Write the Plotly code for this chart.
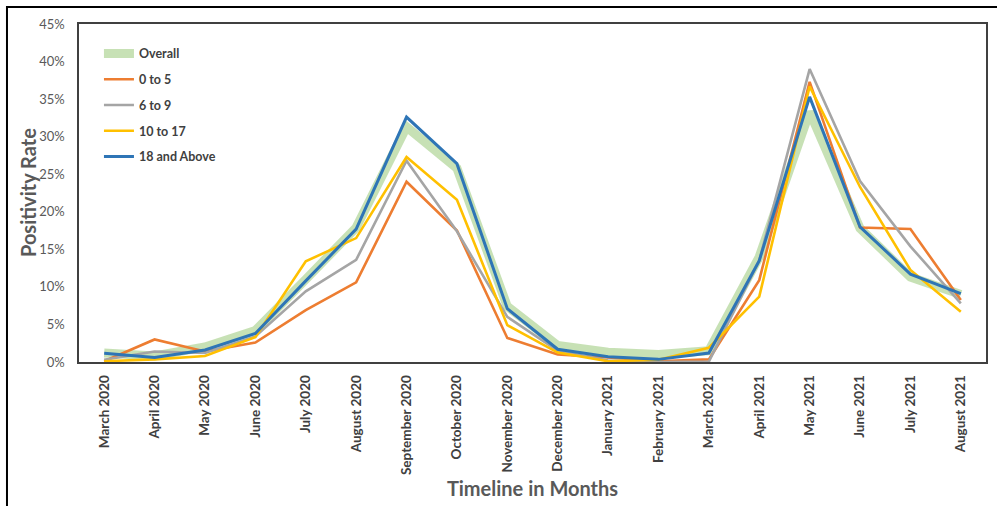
import plotly.graph_objects as go

months = ["March 2020", "April 2020", "May 2020", "June 2020", "July 2020", "August 2020",
          "September 2020", "October 2020", "November 2020", "December 2020", "January 2021",
          "February 2021", "March 2021", "April 2021", "May 2021", "June 2021", "July 2021",
          "August 2021"]

overall = [1.2, 0.8, 2.0, 4.2, 11.0, 17.9, 31.3, 25.8, 7.4, 2.2, 1.3, 1.0, 1.5, 14.0, 33.3, 17.8, 11.3, 9.0]
age_0_5 = [0.1, 3.0, 1.4, 2.6, 6.9, 10.6, 24.0, 17.5, 3.2, 1.0, 0.6, 0.1, 0.35, 10.9, 37.3, 17.9, 17.7, 8.25]
age_6_9 = [0.3, 1.4, 1.2, 3.4, 9.4, 13.6, 26.8, 17.4, 6.0, 1.5, 0.2, 0.0, 0.05, 13.5, 39.0, 24.1, 15.4, 7.8]
age_10_17 = [0.1, 0.35, 0.8, 3.3, 13.4, 16.5, 27.3, 21.6, 4.9, 1.25, 0.1, 0.3, 1.9, 8.7, 36.7, 23.3, 12.25, 6.7]
age_18_up = [1.15, 0.6, 1.6, 3.8, 10.8, 17.7, 32.6, 26.4, 7.1, 1.7, 0.7, 0.35, 1.2, 13.5, 35.3, 18.0, 11.7, 9.1]

y_ticks = [0, 5, 10, 15, 20, 25, 30, 35, 40, 45]
y_tick_labels = [f"{v}%" for v in y_ticks]

series = [
    ("Overall", overall, "rgba(169,209,142,0.65)", 9),
    ("0 to 5", age_0_5, "#ED7D31", 2.6),
    ("6 to 9", age_6_9, "#A5A5A5", 2.6),
    ("10 to 17", age_10_17, "#FFC000", 2.6),
    ("18 and Above", age_18_up, "#2E75B6", 3),
]

FONT = "Lato, 'Open Sans', sans-serif"

fig = go.Figure()
for name, vals, color, w in series:
    fig.add_trace(go.Scatter(
        x=months, y=[v / 100 for v in vals], mode="lines", name=name,
        legendgroup=name,
        line=dict(color=color, width=w),
    ))

fig.update_layout(
    width=997, height=506,
    margin=dict(l=79, r=11, t=24, b=144),
    paper_bgcolor="white", plot_bgcolor="white",
    font=dict(family=FONT, size=12, color="#595959"),
    showlegend=True,
    legend=dict(
        x=0.022, y=0.956, xanchor="left", yanchor="top",
        bgcolor="rgba(0,0,0,0)",
        font=dict(family=FONT, size=12.5, color="#404040", weight="bold"),
        tracegroupgap=6.5,
        itemwidth=30,
    ),
    xaxis=dict(
        range=[-0.5, len(months) - 0.5],
        tickangle=-90,
        tickfont=dict(family=FONT, size=13.5, color="#404040", weight="bold"),
        showgrid=False, zeroline=False,
        showline=True, linecolor="#404040", linewidth=1.5, mirror=True,
        ticks="", ticklabelstandoff=6,
        automargin=False,
        title=dict(text="Timeline in Months",
                   font=dict(family=FONT, size=20, color="#595959", weight="bold"),
                   standoff=8),
    ),
    yaxis=dict(
        range=[0, 0.45],
        tickvals=[v / 100 for v in y_ticks], ticktext=y_tick_labels,
        tickfont=dict(family=FONT, size=13, color="#595959"),
        showgrid=False, zeroline=False,
        showline=True, linecolor="#404040", linewidth=1.5, mirror=True,
        ticks="", ticklabelstandoff=10,
        automargin=False,
    ),
    annotations=[dict(text="<b>Positivity Rate</b>", xref="paper", yref="paper",
                      x=-0.0562, y=0.5, xanchor="center", yanchor="middle",
                      textangle=-90, showarrow=False,
                      font=dict(family=FONT, size=20, color="#595959"))],
    shapes=[dict(type="rect", xref="paper", yref="paper",
                 x0=-0.0794, x1=1.02, y0=-0.45, y1=1.0503,
                 line=dict(color="black", width=2), layer="above")],
)

fig.write_html("out.html", config={"displayModeBar": False},
               post_script="document.body.style.margin='0';")
